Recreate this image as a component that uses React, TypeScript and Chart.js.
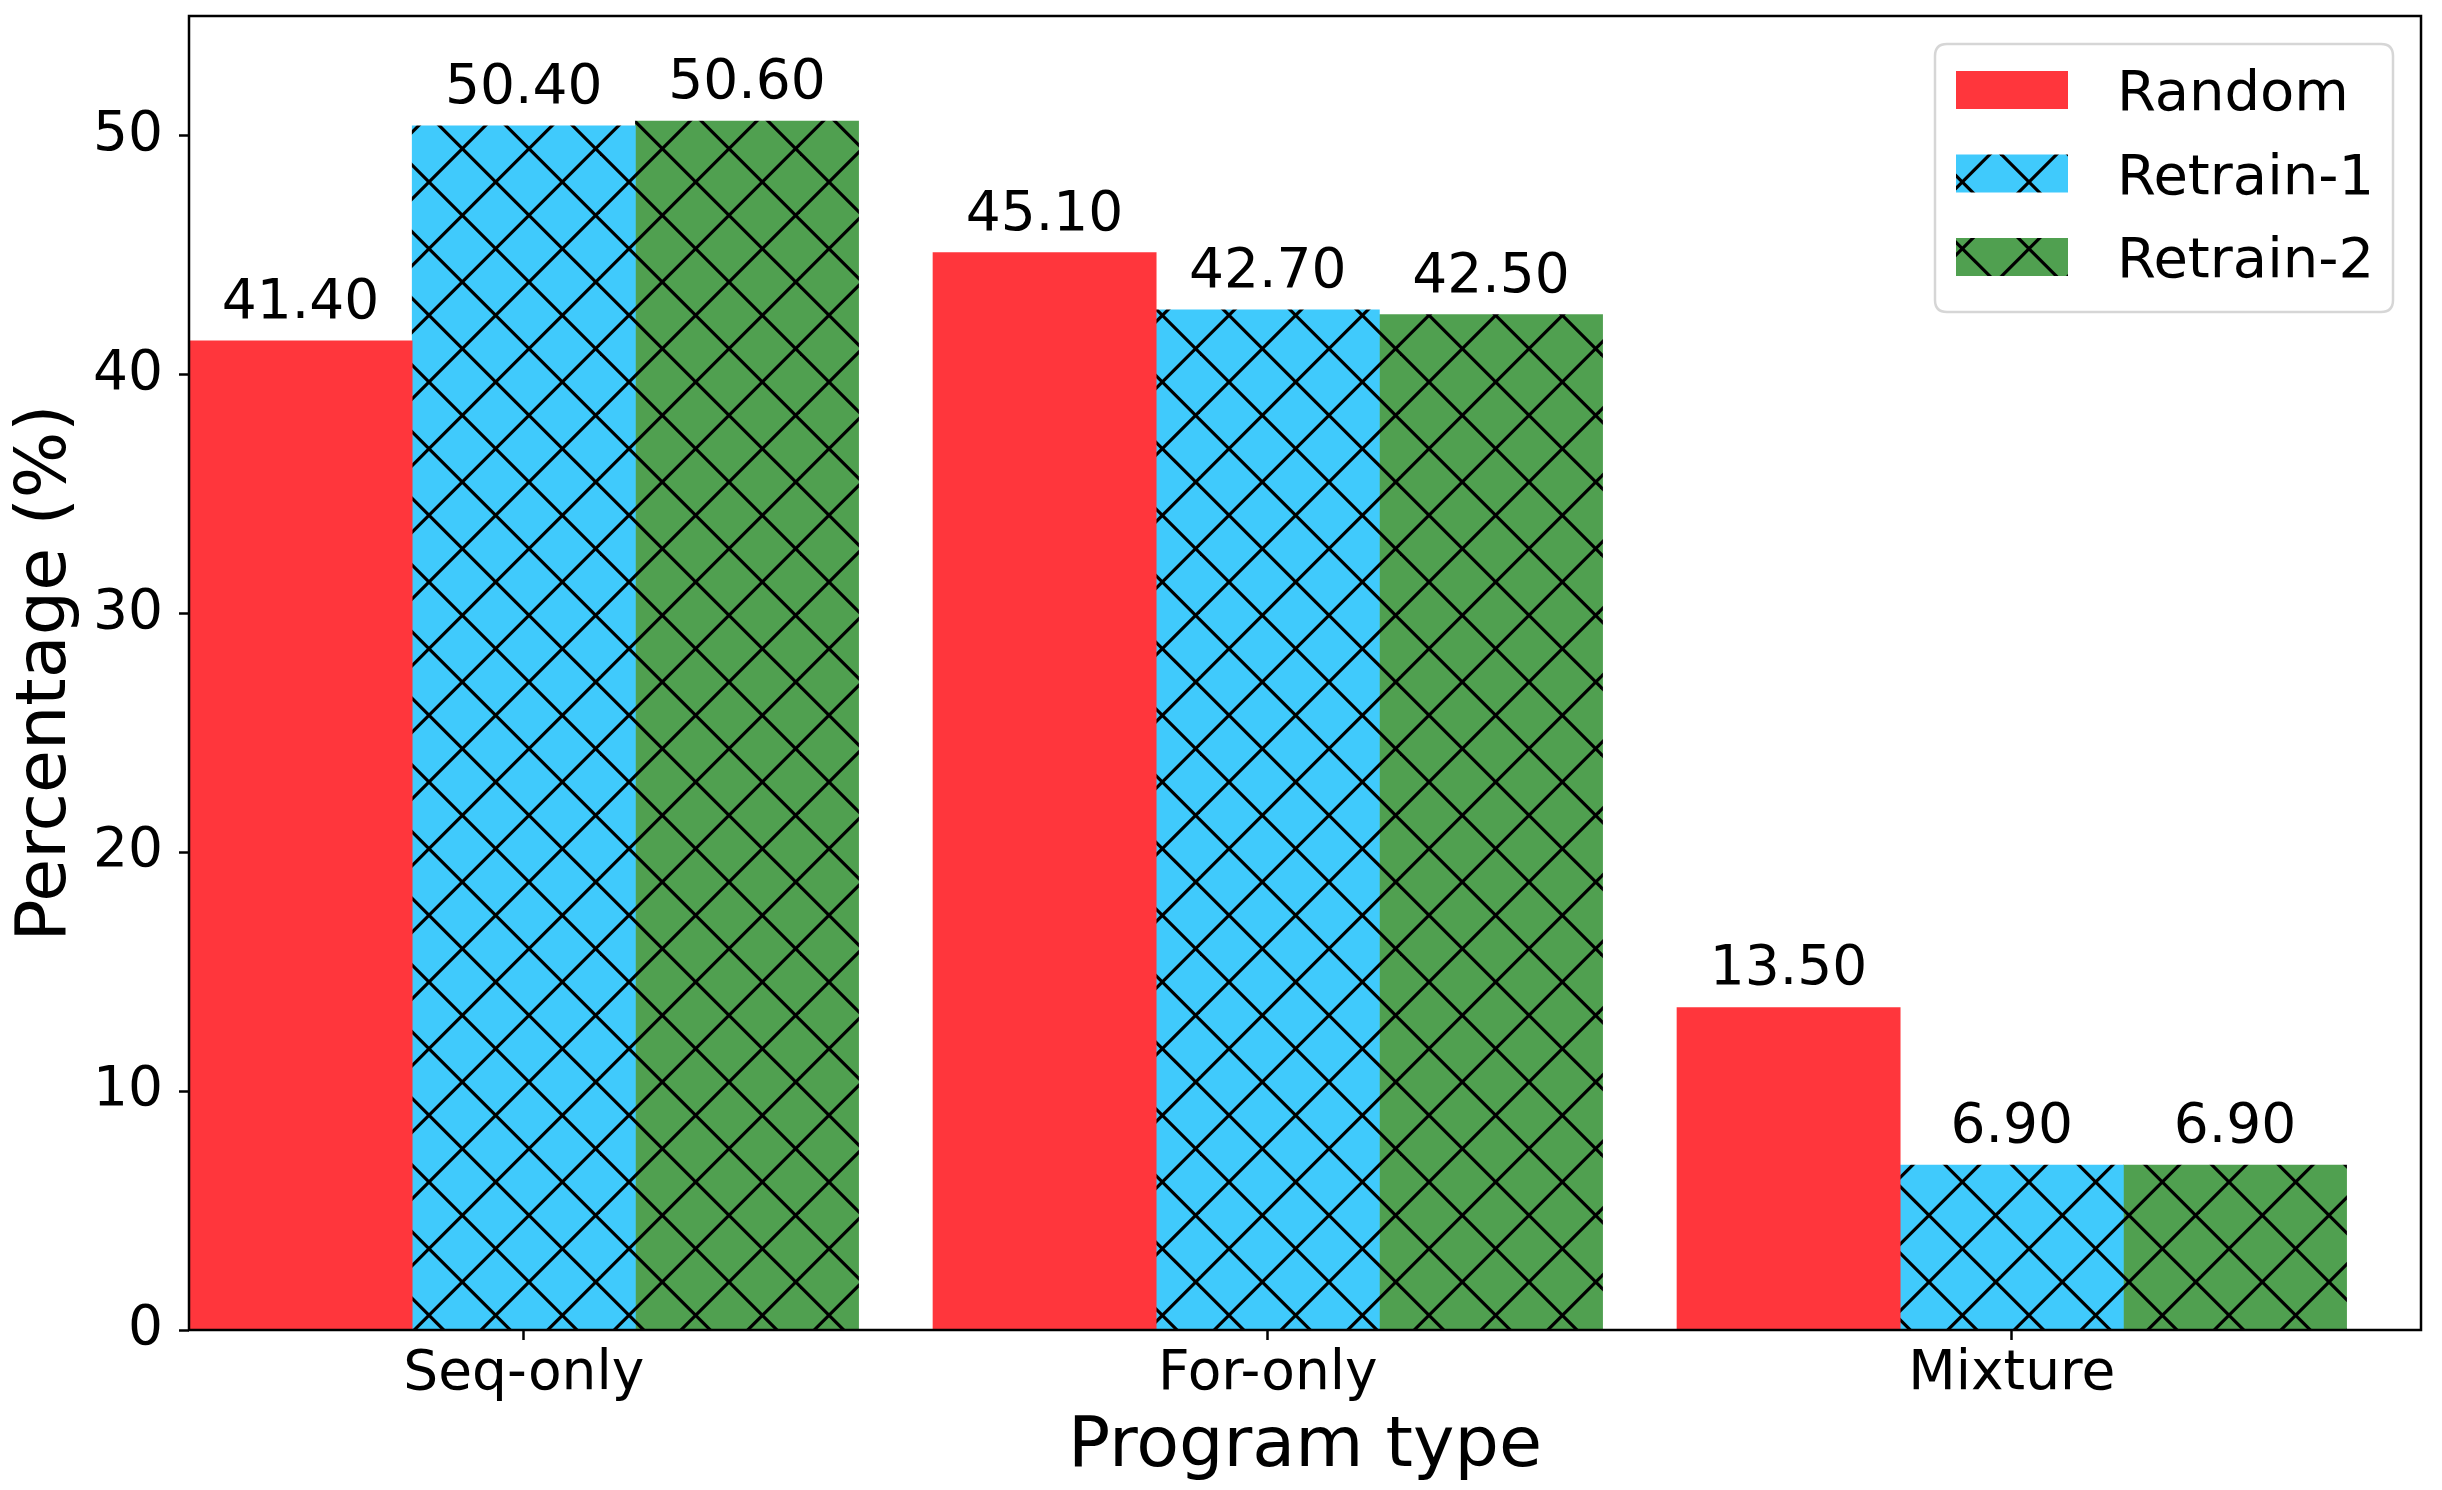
import React, { useEffect, useRef } from "react";
import { Chart, registerables } from "chart.js";

Chart.register(...registerables);

// ---- data ----
const categories = ["Seq-only", "For-only", "Mixture"];
const seriesNames = ["Random", "Retrain-1", "Retrain-2"];
const randomValues = [41.4, 45.1, 13.5];
const retrain1Values = [50.4, 42.7, 6.9];
const retrain2Values = [50.6, 42.5, 6.9];
const yTicks = [0, 10, 20, 30, 40, 50];

// ---- styles ----
const seriesColors = ["#FF363C", "#40CAFC", "#50A050"];
const seriesHatched = [false, true, true];
const FONT = "DejaVu Sans";
const SMALL = 55;
const BIG = 70;
const BAR_W = 0.3;

function makeHatch(color: string): CanvasPattern | string {
  const T = 200;
  const P = T / 3;
  const tile = document.createElement("canvas");
  tile.width = T;
  tile.height = T;
  const c = tile.getContext("2d");
  if (!c) return color;
  c.fillStyle = color;
  c.fillRect(0, 0, T, T);
  c.strokeStyle = "#000";
  c.lineWidth = 3.2;
  const c1 = 47;
  const c2 = 11;
  for (let k = -8; k <= 10; k++) {
    const a = c1 + k * P;
    c.beginPath();
    c.moveTo(a - 30, -30);
    c.lineTo(a + T + 30, T + 30);
    c.stroke();
    const b = c2 + k * P;
    c.beginPath();
    c.moveTo(b + 30, -30);
    c.lineTo(b - T - 30, T + 30);
    c.stroke();
  }
  const p = c.createPattern(tile, "repeat");
  return p || color;
}

const framePlugin = {
  id: "frameAndLabels",
  afterDatasetsDraw(chart: any) {
    const ctx = chart.ctx;
    const { left, top, right, bottom } = chart.chartArea;
    // value labels
    ctx.save();
    ctx.font = `${SMALL}px "${FONT}"`;
    ctx.fillStyle = "#000";
    ctx.textAlign = "center";
    ctx.textBaseline = "alphabetic";
    chart.data.datasets.forEach((ds: any, di: number) => {
      const meta = chart.getDatasetMeta(di);
      meta.data.forEach((el: any, i: number) => {
        const v = ds.data[i].y;
        ctx.fillText(v.toFixed(2), el.x, el.y - 23);
      });
    });
    ctx.restore();
    // frame
    ctx.save();
    ctx.strokeStyle = "#000";
    ctx.lineWidth = 2.5;
    ctx.strokeRect(left, top, right - left, bottom - top);
    ctx.restore();
  },
  afterDraw(chart: any) {
    const ctx = chart.ctx;
    const { right, top } = chart.chartArea;
    const boxR = right - 28;
    const boxL = boxR - 458;
    const boxT = top + 28;
    const boxB = boxT + 268;
    ctx.save();
    ctx.beginPath();
    const r = 12;
    ctx.moveTo(boxL + r, boxT);
    ctx.lineTo(boxR - r, boxT);
    ctx.quadraticCurveTo(boxR, boxT, boxR, boxT + r);
    ctx.lineTo(boxR, boxB - r);
    ctx.quadraticCurveTo(boxR, boxB, boxR - r, boxB);
    ctx.lineTo(boxL + r, boxB);
    ctx.quadraticCurveTo(boxL, boxB, boxL, boxB - r);
    ctx.lineTo(boxL, boxT + r);
    ctx.quadraticCurveTo(boxL, boxT, boxL + r, boxT);
    ctx.closePath();
    ctx.fillStyle = "rgba(255,255,255,0.8)";
    ctx.fill();
    ctx.strokeStyle = "#d6d6d6";
    ctx.lineWidth = 2.5;
    ctx.stroke();
    ctx.font = `${SMALL + 1}px "${FONT}"`;
    ctx.textAlign = "left";
    ctx.textBaseline = "alphabetic";
    chart.data.datasets.forEach((ds: any, i: number) => {
      const cy = boxT + 46 + i * 83.5;
      ctx.fillStyle = ds.backgroundColor;
      ctx.fillRect(boxL + 21, cy - 19, 112, 38);
      ctx.fillStyle = "#000";
      ctx.fillText(ds.label, boxL + 182, cy + 20);
    });
    ctx.restore();
  },
};

export default function App() {
  const ref = useRef<HTMLCanvasElement | null>(null);

  useEffect(() => {
    document.body.style.margin = "0";
    const canvas = ref.current;
    if (!canvas) return;
    const seriesValues = [randomValues, retrain1Values, retrain2Values];
    const datasets = seriesNames.map((name, s) => ({
      label: name,
      data: categories.map((_, i) => ({
        x: i + (s - 1) * BAR_W,
        y: seriesValues[s][i],
      })),
      backgroundColor: seriesHatched[s]
        ? makeHatch(seriesColors[s])
        : seriesColors[s],
      borderWidth: 0,
      grouped: false,
      barPercentage: 1,
      categoryPercentage: 1,
    }));

    const chart = new Chart(canvas, {
      type: "bar",
      data: { datasets: datasets as any },
      options: {
        responsive: false,
        devicePixelRatio: 1,
        animation: false,
        layout: { padding: { top: 16, right: 21, left: 0, bottom: 0 } },
        plugins: {
          legend: { display: false },
          tooltip: { enabled: false },
        },
        scales: {
          x: {
            type: "linear",
            min: -0.45,
            max: 2.55,
            offset: false,
            afterBuildTicks: (s: any) => {
              s.ticks = categories.map((_, i) => ({ value: i }));
            },
            afterFit: (s: any) => {
              s.height = 160;
              s.paddingLeft = 0;
              s.paddingRight = 0;
            },
            ticks: {
              callback: (v: any) => categories[Math.round(Number(v))],
              font: { family: FONT, size: SMALL, lineHeight: 1 },
              color: "#000",
              padding: 7,
              maxRotation: 0,
              autoSkip: false,
            },
            grid: {
              offset: false,
              drawOnChartArea: false,
              drawTicks: true,
              tickLength: 10,
              tickWidth: 2.5,
              tickColor: "#000",
            },
            border: { display: false },
            title: {
              display: true,
              text: "Program type",
              color: "#000",
              font: { family: FONT, size: BIG, lineHeight: 1.2 },
              padding: { top: 0, bottom: 0 },
            },
          },
          y: {
            min: 0,
            max: 55,
            afterBuildTicks: (s: any) => {
              s.ticks = yTicks.map((v) => ({ value: v }));
            },
            afterFit: (s: any) => {
              s.width = 189;
              s.paddingTop = 0;
              s.paddingBottom = 0;
            },
            ticks: {
              font: { family: FONT, size: SMALL, lineHeight: 1 },
              color: "#000",
              padding: 16,
            },
            grid: {
              drawOnChartArea: false,
              drawTicks: true,
              tickLength: 10,
              tickWidth: 2.5,
              tickColor: "#000",
            },
            border: { display: false },
            title: {
              display: true,
              text: "Percentage (%)",
              color: "#000",
              font: { family: FONT, size: BIG, lineHeight: 1.2 },
              padding: { top: 5, bottom: 0 },
            },
          },
        },
      },
      plugins: [framePlugin],
    });
    return () => chart.destroy();
  }, []);

  return (
    <canvas
      ref={ref}
      width={2442}
      height={1490}
      style={{ display: "block", width: 2442, height: 1490 }}
    />
  );
}
